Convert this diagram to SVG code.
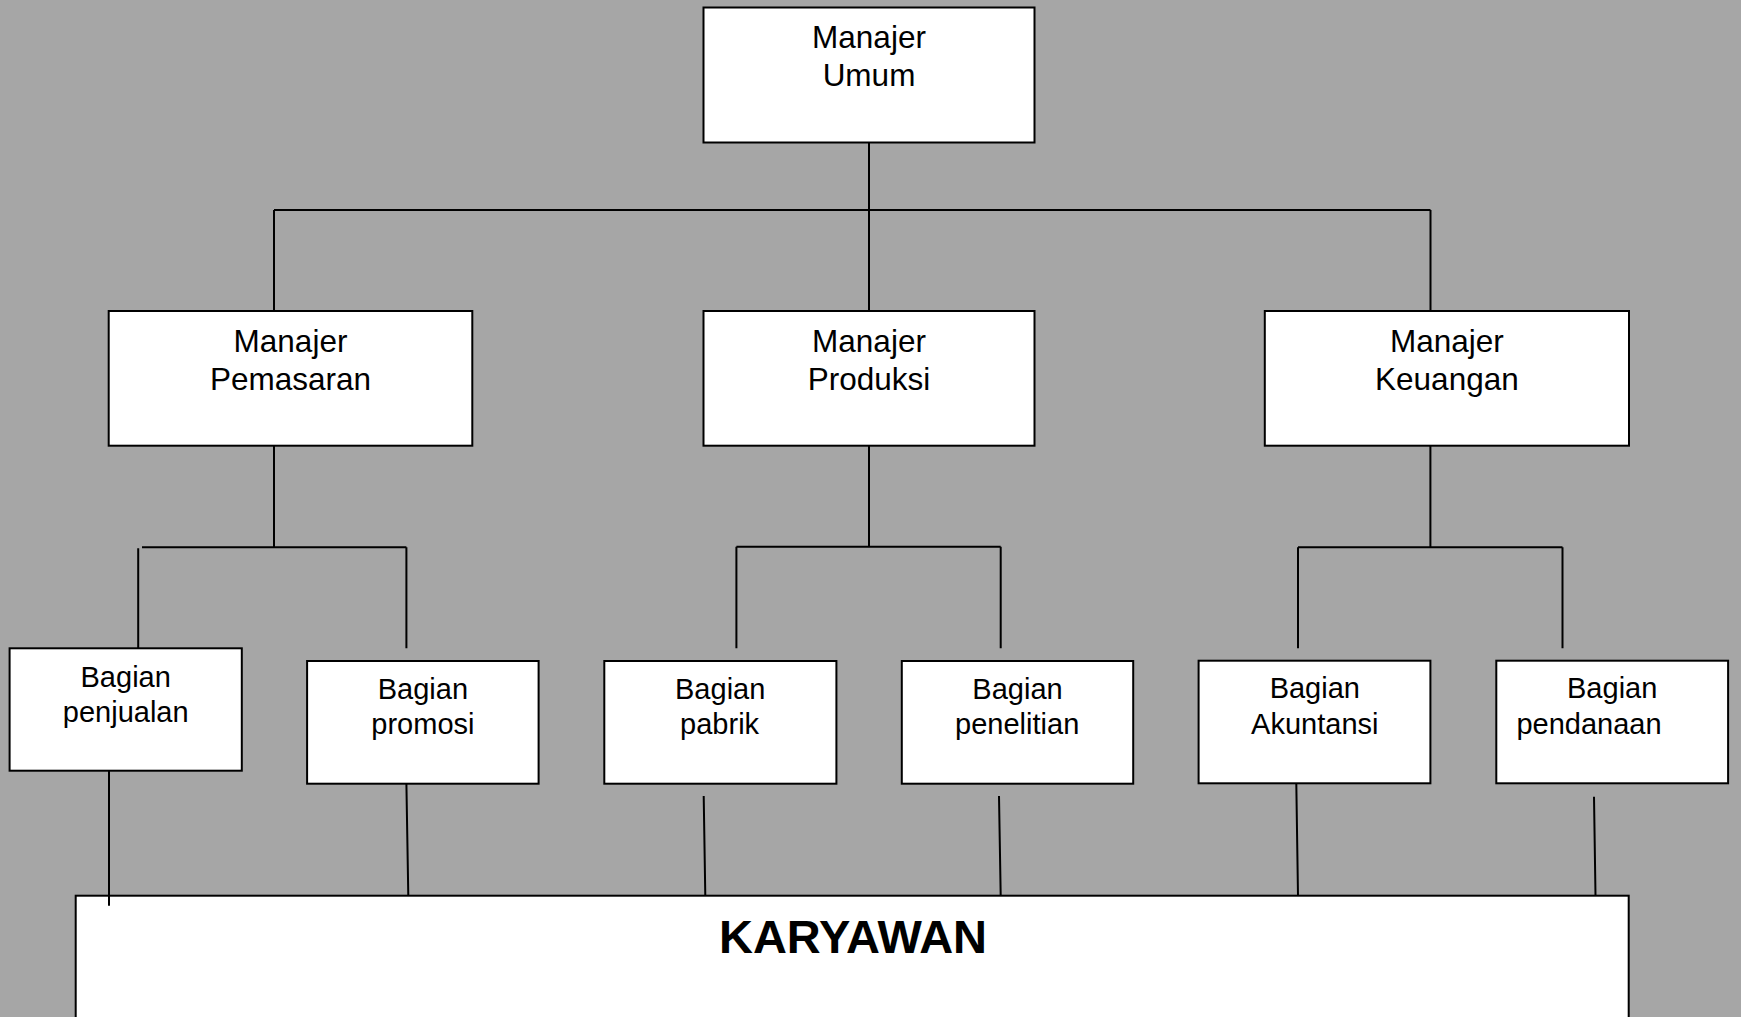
<svg xmlns="http://www.w3.org/2000/svg" width="1741" height="1017" viewBox="0 0 1741 1017">
  <style>
    .box { fill: #ffffff; stroke: #000000; stroke-width: 2; }
    .wire { fill: none; stroke: #000000; stroke-width: 2; stroke-linecap: butt; }
    .mgr { font-family: "Liberation Sans", Arial, sans-serif; font-size: 31.5px; fill: #000000; text-anchor: middle; }
    .sec { font-family: "Liberation Sans", Arial, sans-serif; font-size: 29px; fill: #000000; text-anchor: middle; }
    .staff { font-family: "Liberation Sans", Arial, sans-serif; font-size: 47px; font-weight: bold; fill: #000000; text-anchor: middle; }
  </style>

  <rect x="0" y="0" width="1741" height="1017" fill="#a6a6a6"/>

  <g id="manajer-umum">
    <rect class="box" x="703.5" y="7.5" width="331" height="135"/>
    <text class="mgr" x="869" y="48">Manajer</text>
    <text class="mgr" x="869" y="86">Umum</text>
  </g>

  <g id="manajer-pemasaran">
    <rect class="box" x="108.7" y="311" width="363.6" height="134.7"/>
    <text class="mgr" x="290.5" y="351.7">Manajer</text>
    <text class="mgr" x="290.5" y="390">Pemasaran</text>
  </g>

  <g id="manajer-produksi">
    <rect class="box" x="703.5" y="311" width="331" height="134.7"/>
    <text class="mgr" x="869" y="351.7">Manajer</text>
    <text class="mgr" x="869" y="390">Produksi</text>
  </g>

  <g id="manajer-keuangan">
    <rect class="box" x="1264.8" y="311" width="364.2" height="134.7"/>
    <text class="mgr" x="1446.9" y="351.7">Manajer</text>
    <text class="mgr" x="1446.9" y="390">Keuangan</text>
  </g>

  <g id="bagian-penjualan">
    <rect class="box" x="9.6" y="648.3" width="232.2" height="122.4"/>
    <text class="sec" x="125.7" y="686.7">Bagian</text>
    <text class="sec" x="125.7" y="721.7">penjualan</text>
  </g>

  <g id="bagian-promosi">
    <rect class="box" x="307.1" y="661" width="231.5" height="122.7"/>
    <text class="sec" x="422.9" y="699.3">Bagian</text>
    <text class="sec" x="422.9" y="734">promosi</text>
  </g>

  <g id="bagian-pabrik">
    <rect class="box" x="604.3" y="661" width="232.1" height="122.7"/>
    <text class="sec" x="720.2" y="699.3">Bagian</text>
    <text class="sec" x="719.6" y="734">pabrik</text>
  </g>

  <g id="bagian-penelitian">
    <rect class="box" x="901.8" y="661" width="231.4" height="122.7"/>
    <text class="sec" x="1017.5" y="699.3">Bagian</text>
    <text class="sec" x="1017.2" y="734">penelitian</text>
  </g>

  <g id="bagian-akuntansi">
    <rect class="box" x="1198.6" y="660.7" width="231.8" height="122.6"/>
    <text class="sec" x="1314.8" y="698.3">Bagian</text>
    <text class="sec" x="1314.8" y="734">Akuntansi</text>
  </g>

  <g id="bagian-pendanaan">
    <rect class="box" x="1496.3" y="660.7" width="231.8" height="122.6"/>
    <text class="sec" x="1612.2" y="698.3">Bagian</text>
    <text class="sec" x="1589" y="734">pendanaan</text>
  </g>

  <g id="karyawan">
    <rect class="box" x="75.7" y="895.7" width="1553" height="140"/>
    <text class="staff" x="853" y="952.7">KARYAWAN</text>
  </g>

  <!-- reporting lines, drawn last so the sales line overlaps the staff box edge -->
  <g id="connectors">
    <!-- general manager to department managers -->
    <path class="wire" d="M869 142 V210 M274 210 H1430.5 M274 210 V311 M869 210 V311 M1430.5 210 V311"/>
    <!-- marketing -->
    <path class="wire" d="M274 446 V547.3 M142 547.3 H406.4 M138.2 548.3 V648.3 M406.4 547.3 V648.3"/>
    <!-- production -->
    <path class="wire" d="M869 446 V546.7 M736.4 546.7 H1000.7 M736.4 546.7 V648.3 M1000.7 546.7 V648.3"/>
    <!-- finance -->
    <path class="wire" d="M1430.4 446 V547.3 M1298 547.3 H1562.5 M1298 547.3 V648.3 M1562.5 547.3 V648.3"/>
    <!-- sections to staff -->
    <path class="wire" d="M109 770.7 V905.7 M406.4 783.7 L408.3 895.7 M703.7 796 L705.3 896 M999 796 L1000.7 896 M1296.3 783.3 L1298 895.7 M1594 796.7 L1595.5 895.7"/>
  </g>
</svg>
